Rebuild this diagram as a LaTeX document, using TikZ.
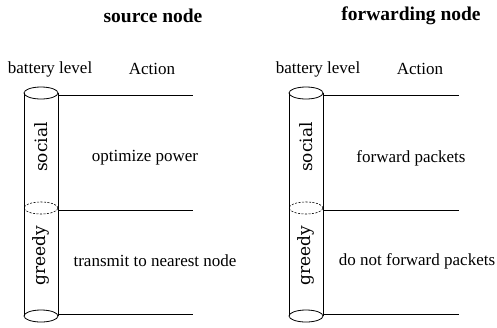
\documentclass[tikz,border=0pt]{standalone}
\usepackage{fontspec}
\setmainfont{Liberation Serif}
\newfontfamily\levelfont{DejaVu Serif}
\usetikzlibrary{positioning,calc}
\tikzset{
  bLabel/.style={font=\fontsize{17}{19}\selectfont,inner sep=0pt},
  bTitle/.style={font=\bfseries\fontsize{19.5}{22}\selectfont,inner sep=0pt},
  bLevel/.style={font=\levelfont\fontsize{17}{19}\selectfont,rotate=90,inner sep=0pt},
  bLine/.style={line width=0.8pt},
  bRim/.style={line width=0.8pt,x radius=17pt,y radius=6pt},
  bMid/.style={bRim,dashed,dash pattern=on 2pt off 1.5pt,line width=0.6pt}
}
\begin{document}
\begin{tikzpicture}[x=1pt,y=-1pt]
\useasboundingbox (0,0) rectangle (497,327);
% source node
\node[bTitle] (srcTitle) at (153,16) {source node};
\node[bLabel] (srcBat) at (50,69) {battery level};
\node[bLabel] (srcAct) at (152,69) {Action};
\coordinate (srcTop) at (41,93);
\coordinate (srcMid) at (41,208);
\coordinate (srcBot) at (41,316);
\draw[bRim] (srcTop) ellipse[];
\draw[bMid] (srcMid) ellipse[];
\draw[bRim] (srcBot) ellipse[];
\draw[bLine] ($(srcTop)+(-17,0)$) -- ($(srcBot)+(-17,0)$);
\draw[bLine] ($(srcTop)+(17,0)$) -- ($(srcBot)+(17,0)$);
\coordinate (srcTopEnd) at (193,95);
\coordinate (srcMidEnd) at (193,210);
\coordinate (srcBotEnd) at (193,314);
\draw[bLine] (58,95) -- (srcTopEnd);
\draw[bLine] (58,210) -- (srcMidEnd);
\draw[bLine] (58,314) -- (srcBotEnd);
\node[bLevel] (srcSocial) at (41,147) {social};
\node[bLevel] (srcGreedy) at (41,256) {greedy};
\node[bLabel] (srcPow) at (145,158) {optimize power};
\node[bLabel] (srcNear) at (155,261) {transmit to nearest node};
% forwarding node
\node[bTitle] (fwdTitle) at (411,16) {forwarding node};
\node[bLabel] (fwdBat) at (318,69) {battery level};
\node[bLabel] (fwdAct) at (420,69) {Action};
\coordinate (fwdTop) at (306,93);
\coordinate (fwdMid) at (306,208);
\coordinate (fwdBot) at (306,316);
\draw[bRim] (fwdTop) ellipse[];
\draw[bMid] (fwdMid) ellipse[];
\draw[bRim] (fwdBot) ellipse[];
\draw[bLine] ($(fwdTop)+(-17,0)$) -- ($(fwdBot)+(-17,0)$);
\draw[bLine] ($(fwdTop)+(17,0)$) -- ($(fwdBot)+(17,0)$);
\coordinate (fwdTopEnd) at (459,95);
\coordinate (fwdMidEnd) at (459,210);
\coordinate (fwdBotEnd) at (459,314);
\draw[bLine] (323,95) -- (fwdTopEnd);
\draw[bLine] (323,210) -- (fwdMidEnd);
\draw[bLine] (323,314) -- (fwdBotEnd);
\node[bLevel] (fwdSocial) at (306,147) {social};
\node[bLevel] (fwdGreedy) at (306,256) {greedy};
\node[bLabel] (fwdPkt) at (411,158) {forward packets};
\node[bLabel] (fwdNo) at (417,261) {do not forward packets};
\end{tikzpicture}
\end{document}
